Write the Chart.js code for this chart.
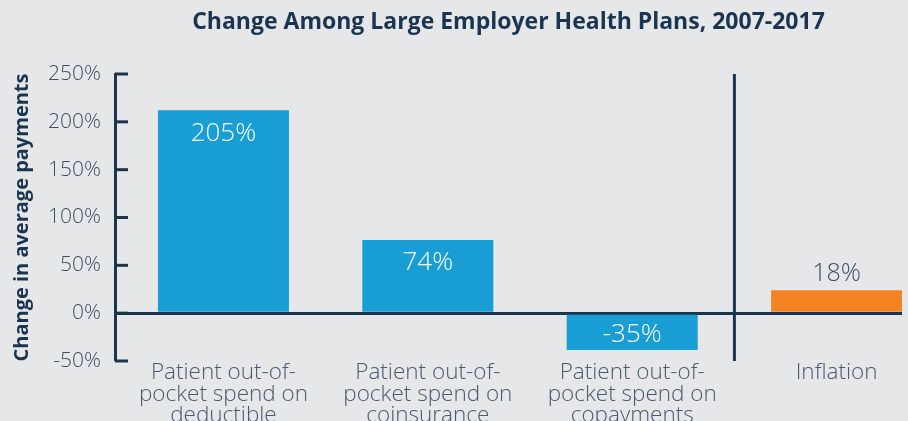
<!DOCTYPE html>
<html>
<head>
<meta charset="utf-8">
<script src="https://cdn.jsdelivr.net/npm/chart.js@4.4.1/dist/chart.umd.min.js"></script>
<style>
  html, body { margin: 0; padding: 0; background: #e6e7e9; overflow: hidden; }
  #wrap { width: 908px; height: 421px; position: relative; }
</style>
</head>
<body>
<div id="wrap"><canvas id="c" width="908" height="421"></canvas></div>
<script>
// ---- data ----
const categories = [
  ["Patient out-of-", "pocket spend on", "deductible"],
  ["Patient out-of-", "pocket spend on", "coinsurance"],
  ["Patient out-of-", "pocket spend on", "copayments"],
  ["Inflation"]
];
const values = [212, 76.5, -38.5, 24];
const valueLabels = ["205%", "74%", "-35%", "18%"];
const yTicks = [-50, 0, 50, 100, 150, 200, 250];
const titleText = "Change Among Large Employer Health Plans, 2007-2017";
const yTitle = "Change in average payments";

// ---- styles ----
const NAVY = '#1b3550';
const BLUE = '#189dd5';
const ORANGE = '#f58223';
const TICK = '#3f4f63';
const XLAB = '#4b5a6b';
const FONT = '"Open Sans", Roboto, sans-serif';
const barColors = values.map((v, i) => i === values.length - 1 ? ORANGE : BLUE);
const separatorAt = 2.5;

const axisMarks = {
  id: 'axisMarks',
  afterDraw(chart) {
    const { ctx, chartArea, scales } = chart;
    const y = scales.y, x = scales.x;
    ctx.save();
    ctx.strokeStyle = NAVY;
    ctx.lineWidth = 3;
    yTicks.forEach(v => {
      const py = y.getPixelForValue(v);
      ctx.beginPath();
      ctx.moveTo(chartArea.left, py);
      ctx.lineTo(chartArea.left + 13, py);
      ctx.stroke();
    });
    const sx = x.getPixelForValue(separatorAt);
    ctx.beginPath();
    ctx.moveTo(sx, chartArea.top);
    ctx.lineTo(sx, chartArea.bottom);
    ctx.stroke();
    ctx.restore();
  }
};

const barLabels = {
  id: 'barLabels',
  afterDatasetsDraw(chart) {
    const { ctx } = chart;
    const meta = chart.getDatasetMeta(0);
    ctx.save();
    ctx.textAlign = 'center';
    ctx.textBaseline = 'middle';
    meta.data.forEach((bar, i) => {
      const v = values[i];
      const last = i === values.length - 1;
      if (last) {
        ctx.font = '300 25px ' + FONT;
        ctx.fillStyle = TICK;
        ctx.fillText(valueLabels[i], bar.x, bar.y - 16);
      } else {
        ctx.font = '300 26px ' + FONT;
        ctx.fillStyle = '#ffffff';
        const top = v >= 0 ? bar.y : bar.base;
        ctx.fillText(valueLabels[i], bar.x, top + (v >= 0 ? 23 : 20));
      }
    });
    ctx.restore();
  }
};

new Chart(document.getElementById('c'), {
  type: 'bar',
  data: {
    datasets: [{
      data: values.map((v, i) => ({ x: i, y: v })),
      backgroundColor: barColors,
      borderWidth: 0,
      categoryPercentage: 1,
      barPercentage: 0.641
    }]
  },
  options: {
    responsive: false,
    animation: false,
    devicePixelRatio: 1,
    layout: { padding: { left: 0, right: 6, top: 0, bottom: 0 } },
    plugins: {
      legend: { display: false },
      tooltip: { enabled: false },
      title: {
        display: true,
        text: titleText,
        fullSize: false,
        color: NAVY,
        font: { family: FONT, size: 23, weight: 'bold', lineHeight: 1.2 },
        padding: { top: 9, bottom: 37.4 }
      }
    },
    scales: {
      x: {
        type: 'linear',
        offset: false,
        min: -0.5306,
        max: 3.32,
        afterBuildTicks(scale) {
          scale.ticks = categories.map((c, i) => ({ value: i }));
        },
        afterFit(scale) { scale.height = 60; },
        border: { display: false },
        grid: { display: false, drawTicks: false },
        ticks: {
          autoSkip: false,
          maxRotation: 0,
          padding: 1,
          color: XLAB,
          font: { family: FONT, size: 22.5, weight: '300', lineHeight: 0.955 },
          callback: (value) => categories[value]
        }
      },
      y: {
        min: yTicks[0],
        max: yTicks[yTicks.length - 1],
        afterBuildTicks(scale) {
          scale.ticks = yTicks.map(v => ({ value: v }));
        },
        afterFit(scale) { scale.width = 115; },
        border: { display: true, color: NAVY, width: 3 },
        grid: {
          drawTicks: false,
          color: ctx => (ctx.tick && ctx.tick.value === 0) ? NAVY : 'rgba(0,0,0,0)',
          lineWidth: ctx => (ctx.tick && ctx.tick.value === 0) ? 3 : 0
        },
        ticks: {
          padding: 14,
          color: TICK,
          font: { family: FONT, size: 21, weight: '300' },
          callback: v => v + '%'
        },
        title: {
          display: true,
          text: yTitle,
          color: NAVY,
          font: { family: FONT, size: 20, weight: 'bold', lineHeight: 1.2 },
          padding: { top: 10, bottom: 0 }
        }
      }
    }
  },
  plugins: [axisMarks, barLabels]
});
</script>
</body>
</html>
